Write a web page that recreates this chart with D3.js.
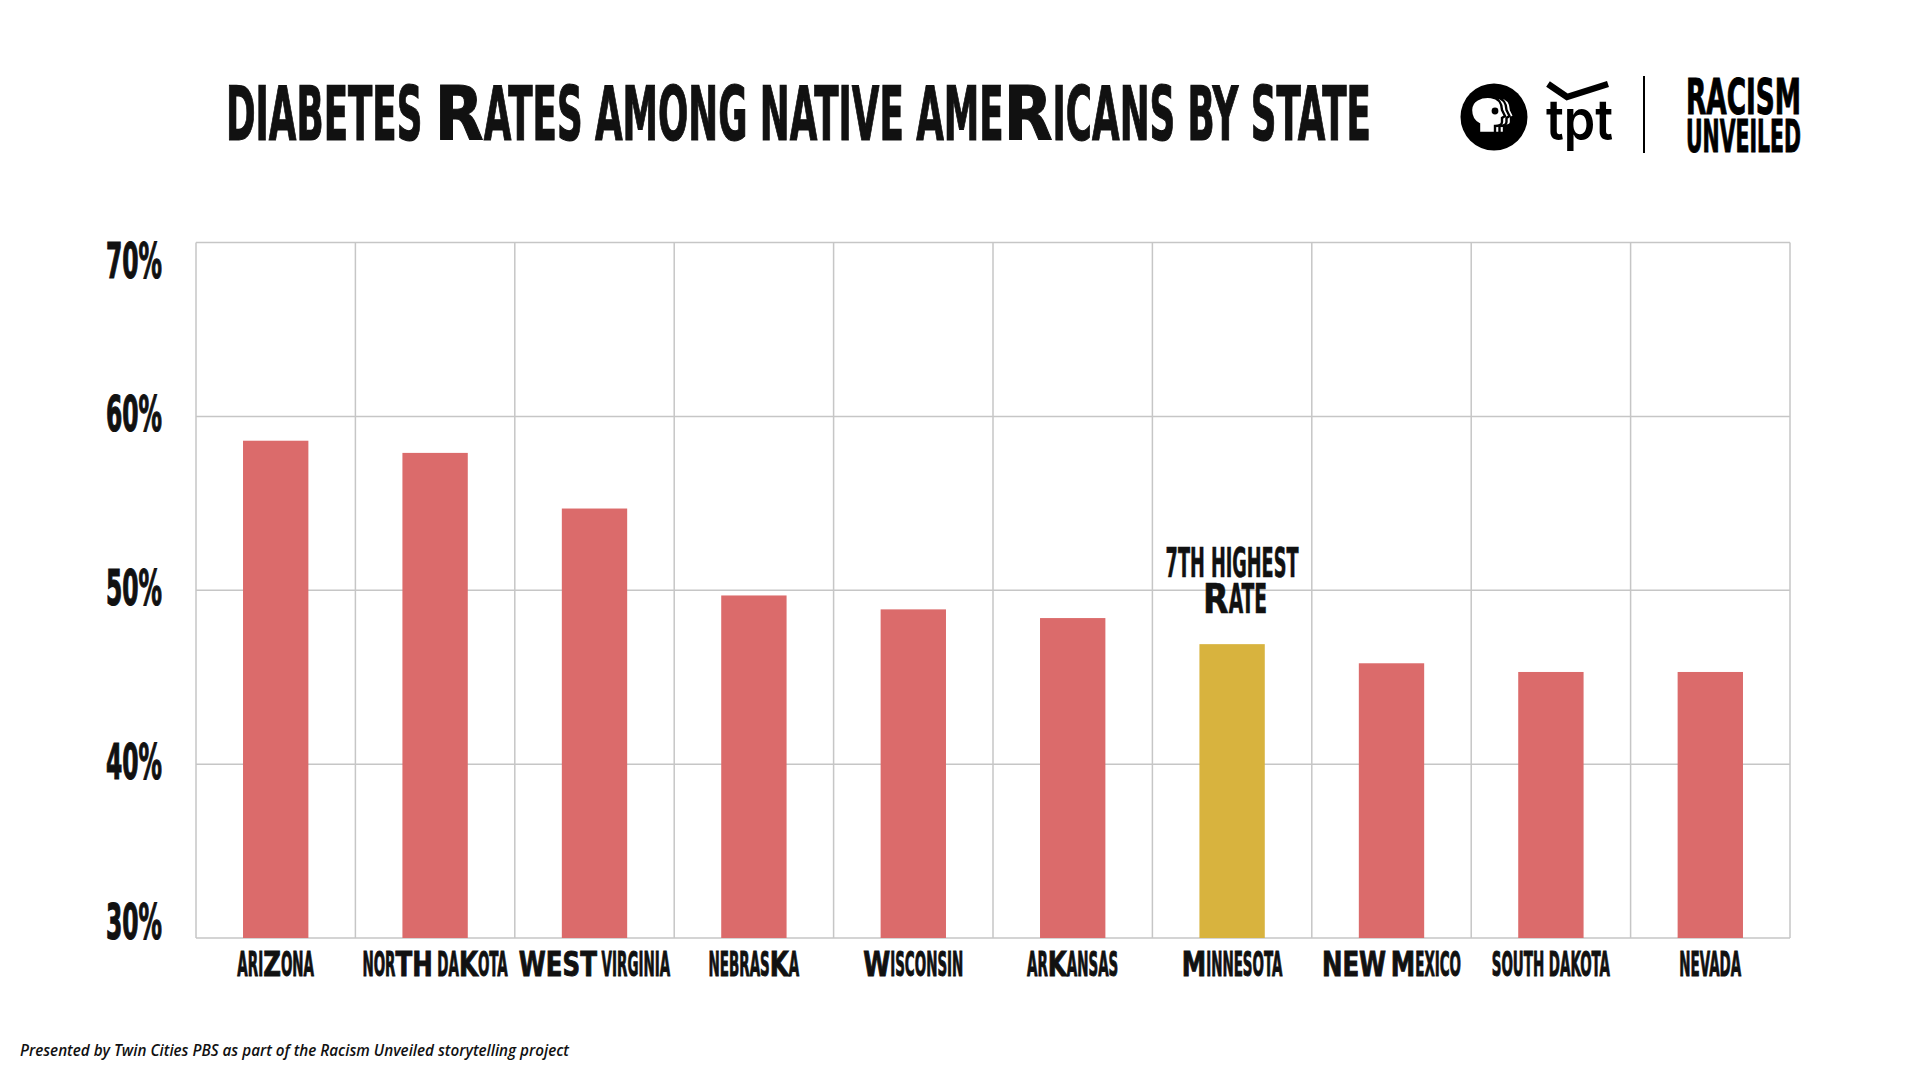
<!DOCTYPE html>
<html>
<head>
<meta charset="utf-8">
<script src="https://cdn.jsdelivr.net/npm/d3@7"></script>
<style>
  body { margin: 0; background: #fff; }
  svg { display: block; }
  text { white-space: pre; }
  .cond { font-family: "Liberation Sans Narrow", "DejaVu Sans Condensed", sans-serif; font-weight: bold; }
  .wide { font-family: "DejaVu Sans", "Liberation Sans", sans-serif; font-weight: bold; }
</style>
</head>
<body>
<div id="chart"></div>
<script>
var width = 1920,
  height = 1080;

// data ([..] marks the wide letters of the poster lettering)
var states = ["ARI[Z]ONA", "NOR[TH] DA[K]OTA", "[WEST] VIRGINIA", "NEBRAS[K]A", "[W]ISCONSIN",
  "AR[K]ANSAS", "[M]INNESOTA", "[NEW] [M]EXICO", "SOUTH DAKOTA", "NEVADA"];
var rates = [58.6, 57.9, 54.7, 49.7, 48.9, 48.4, 46.9, 45.8, 45.3, 45.3];
var highlight = "[M]INNESOTA";
var yTicks = [30, 40, 50, 60, 70];
var title = "DIABETES [R]ATES AMONG NATIVE AME[R]ICANS BY STATE";
var note = ["7TH HIGHEST", "[R]ATE"];
var credit = "Presented by Twin Cities PBS as part of the Racism Unveiled storytelling project";

var red = "#db6b6b", gold = "#d8b33e", grid = "#c6c6c6";

var svg = d3.select("#chart").append("svg")
  .attr("width", width)
  .attr("height", height);

// split "AB[C]D" into pieces with a wide flag
function pieces(s) {
  var out = [];
  s.split(/(\[[^\]]+\])/).forEach(function (p) {
    if (!p) return;
    if (p[0] === "[") out.push({ t: p.slice(1, -1), w: true });
    else out.push({ t: p, w: false });
  });
  return out;
}

// lay out condensed / wide pieces one after the other
function lettering(parent, s, o) {
  var inner = parent.append("g");
  var cx = 0;
  pieces(s).forEach(function (p) {
    var sx = p.w ? o.wx : o.sx;
    var t = inner.append("text")
      .attr("class", p.w ? "wide" : "cond")
      .attr("font-size", o.size)
      .attr("fill", "#111")
      .attr("stroke", "#111")
      .attr("stroke-width", o.stroke || 0)
      .text(p.t);
    var w = t.node().getComputedTextLength();
    t.attr("transform", "translate(" + cx + ",0) scale(" + sx + ",1)");
    cx += w * sx;
  });
  var k = o.width ? o.width / cx : 1;
  var x0 = o.anchor === "middle" ? o.x - cx * k / 2 : o.x;
  inner.attr("transform", "translate(" + x0 + "," + o.y + ") scale(" + k + ",1)");
}

// scales
var x = d3.scaleBand()
  .domain(states)
  .range([196, 1790])
  .paddingInner(0.59)
  .paddingOuter(0.295);

var y = d3.scaleLinear()
  .domain([30, 70])
  .range([938, 242.5]);

var step = x.step();

// grid
var g = svg.append("g");

g.selectAll(".hgrid")
  .data(yTicks)
  .enter().append("line")
  .attr("x1", 196).attr("x2", 1790)
  .attr("y1", function (d) { return y(d); })
  .attr("y2", function (d) { return y(d); })
  .attr("stroke", grid)
  .attr("stroke-width", 1.5);

g.selectAll(".vgrid")
  .data(d3.range(states.length + 1))
  .enter().append("line")
  .attr("x1", function (i) { return 196 + i * step; })
  .attr("x2", function (i) { return 196 + i * step; })
  .attr("y1", y(70)).attr("y2", y(30))
  .attr("stroke", grid)
  .attr("stroke-width", 1.5);

// bars
g.selectAll(".bar")
  .data(states)
  .enter().append("rect")
  .attr("x", function (d) { return x(d); })
  .attr("width", x.bandwidth())
  .attr("y", function (d, i) { return y(rates[i]); })
  .attr("height", function (d, i) { return y(30) - y(rates[i]); })
  .attr("fill", function (d) { return d === highlight ? gold : red; });

// y labels
var yl = svg.append("g");
yl.selectAll("text")
  .data(yTicks)
  .enter().append("text")
  .attr("class", "cond")
  .attr("x", 162)
  .attr("y", function (d) {
    var off = d === 70 ? 20 : d === 30 ? -14 : 0;
    return y(d) - 3 + off;
  })
  .attr("dy", "0.36em")
  .attr("text-anchor", "end")
  .attr("font-size", 50)
  .attr("textLength", 56)
  .attr("lengthAdjust", "spacingAndGlyphs")
  .attr("fill", "#111")
  .attr("stroke", "#111")
  .attr("stroke-width", 1.2)
  .text(function (d) { return d + "%"; });

// x labels
var xl = svg.append("g");
states.forEach(function (d) {
  lettering(xl, d, { x: x(d) + x.bandwidth() / 2, y: 976, size: 34, sx: 0.44, wx: 0.72, stroke: 1, anchor: "middle" });
});

// annotation above the highlighted bar
var nx = x(highlight) + x.bandwidth() / 2;
lettering(svg, note[0], { x: nx, y: 577, size: 40, sx: 1, wx: 1.6, width: 133, stroke: 0.6, anchor: "middle" });
lettering(svg, note[1], { x: nx + 3, y: 613, size: 40, sx: 1, wx: 1.6, width: 64, stroke: 0.6, anchor: "middle" });

// title
lettering(svg, title, { x: 226, y: 140, size: 75, sx: 1, wx: 1.6, width: 1145, stroke: 1.2, anchor: "start" });

// logos
var logo = svg.append("g");
logo.append("defs").append("clipPath").attr("id", "pbsclip")
  .append("circle").attr("cx", 1494).attr("cy", 117).attr("r", 32.5);
logo.append("circle").attr("cx", 1494).attr("cy", 117).attr("r", 33.5).attr("fill", "#000");
var head = "M -20,-6 C -20,-16 -10,-20 0,-19 C 8,-18 11,-12 11,-6 L 14,0 L 11,2 L 11,6 C 11,9 8,10 4,10 L 4,17 L -12,17 L -12,8 C -18,5 -20,0 -20,-6 Z";
var heads = logo.append("g").attr("clip-path", "url(#pbsclip)");
[9, 4.5, 0].forEach(function (dx) {
  heads.append("path")
    .attr("d", head)
    .attr("transform", "translate(" + (1491 + dx) + ",116)")
    .attr("fill", "#fff")
    .attr("stroke", "#000")
    .attr("stroke-width", 2.4);
});
logo.append("circle").attr("cx", 1495).attr("cy", 111).attr("r", 3.4).attr("fill", "#000");

logo.append("text")
  .attr("x", 1546).attr("y", 140)
  .attr("font-family", "Inter, Roboto, sans-serif")
  .attr("font-weight", 600)
  .attr("font-size", 56)
  .attr("textLength", 67)
  .attr("lengthAdjust", "spacingAndGlyphs")
  .attr("fill", "#000")
  .text("tpt");
logo.append("path")
  .attr("d", "M1548,84 L1567,97 L1608,84")
  .attr("fill", "none")
  .attr("stroke", "#000")
  .attr("stroke-width", 6.5);

logo.append("line")
  .attr("x1", 1644).attr("x2", 1644)
  .attr("y1", 76).attr("y2", 153)
  .attr("stroke", "#000").attr("stroke-width", 2);

logo.append("text")
  .attr("class", "cond")
  .attr("x", 1686).attr("y", 114)
  .attr("font-size", 50)
  .attr("textLength", 115)
  .attr("lengthAdjust", "spacingAndGlyphs")
  .attr("fill", "#000")
  .attr("stroke", "#000")
  .attr("stroke-width", 1)
  .text("RACISM");
logo.append("text")
  .attr("class", "cond")
  .attr("x", 1686).attr("y", 152)
  .attr("font-size", 45)
  .attr("textLength", 115)
  .attr("lengthAdjust", "spacingAndGlyphs")
  .attr("fill", "#000")
  .attr("stroke", "#000")
  .attr("stroke-width", 1)
  .text("UNVEILED");

// credit
svg.append("text")
  .attr("x", 20).attr("y", 1056)
  .attr("font-family", "'Open Sans', sans-serif")
  .attr("font-style", "italic")
  .attr("font-weight", 600)
  .attr("font-size", 16)
  .attr("textLength", 549)
  .attr("lengthAdjust", "spacingAndGlyphs")
  .attr("fill", "#111")
  .text(credit);
</script>
</body>
</html>
